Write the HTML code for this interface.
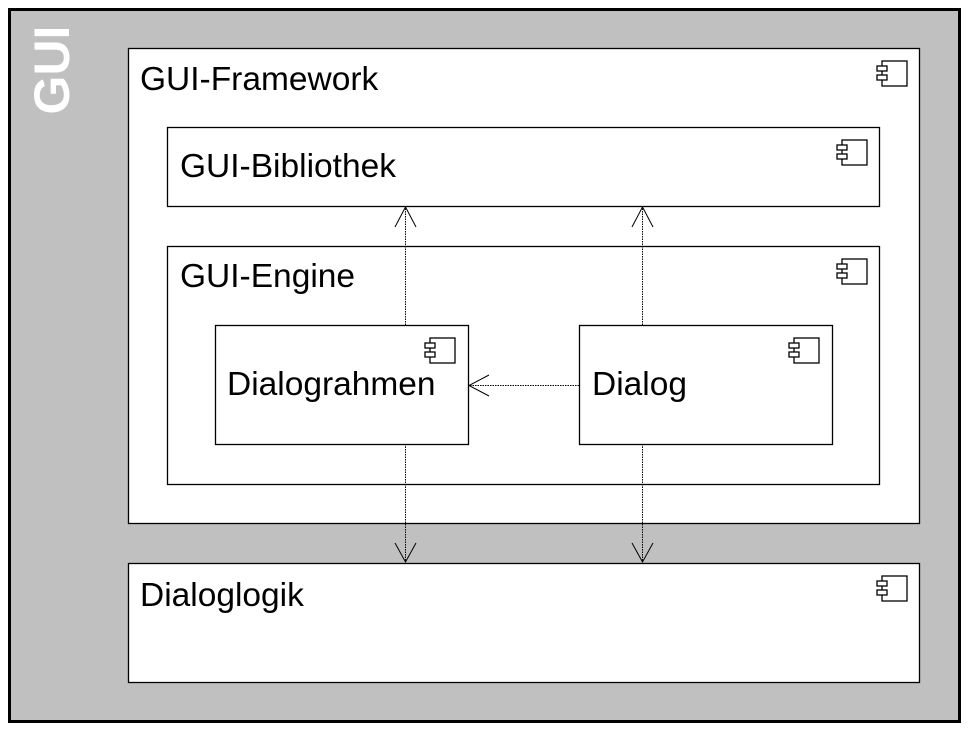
<!DOCTYPE html>
<html><head><style>
body{margin:0;background:#fff;}
svg text{font-family:"Liberation Sans",sans-serif;}
</style></head><body>
<svg width="972" height="732" viewBox="0 0 972 732" xmlns="http://www.w3.org/2000/svg">
<defs>
<g id="ic" fill="#fff" stroke="#000" stroke-width="1.3">
<rect x="5" y="0" width="25" height="25"/>
<rect x="0" y="5" width="10" height="5"/>
<rect x="0" y="14" width="10" height="5"/>
</g>
</defs>
<rect x="9.5" y="9.5" width="950" height="712" fill="#c0c0c0" stroke="#000" stroke-width="3"/>
<text transform="translate(69,70) rotate(-90)" text-anchor="middle" font-size="50" font-weight="bold" fill="#fff">GUI</text>
<g fill="#fff" stroke="#000" stroke-width="1.3">
<rect x="128.5" y="48.5" width="791" height="475"/>
<rect x="167.5" y="127.5" width="712" height="79"/>
<rect x="167.5" y="246.5" width="712" height="238"/>
<rect x="215.5" y="325.5" width="253" height="119"/>
<rect x="579.5" y="325.5" width="253" height="119"/>
<rect x="128.5" y="563.5" width="791" height="119"/>
</g>
<use href="#ic" x="877" y="61"/>
<use href="#ic" x="837" y="140"/>
<use href="#ic" x="837" y="259"/>
<use href="#ic" x="425" y="338"/>
<use href="#ic" x="789" y="338"/>
<use href="#ic" x="877" y="576"/>
<g font-size="33.5" fill="#000">
<text x="140" y="90">GUI-Framework</text>
<text x="180" y="177">GUI-Bibliothek</text>
<text x="180" y="287">GUI-Engine</text>
<text x="227" y="395">Dialograhmen</text>
<text x="592" y="395">Dialog</text>
<text x="140" y="606">Dialoglogik</text>
</g>
<g stroke="#000" stroke-width="1" stroke-dasharray="1.5,1" fill="none">
<line x1="405.5" y1="325" x2="405.5" y2="207"/>
<line x1="642.5" y1="325" x2="642.5" y2="207"/>
<line x1="405.5" y1="444" x2="405.5" y2="562"/>
<line x1="642.5" y1="444" x2="642.5" y2="562"/>
<line x1="579" y1="385.5" x2="469" y2="385.5"/>
</g>
<g stroke="#000" stroke-width="1" fill="none">
<polyline points="395,227 405.5,207 416,227"/>
<polyline points="632,227 642.5,207 653,227"/>
<polyline points="395,543 405.5,562 416,543"/>
<polyline points="632,543 642.5,562 653,543"/>
<polyline points="489,375 469,385.5 489,396"/>
</g>
</svg>
</body></html>
